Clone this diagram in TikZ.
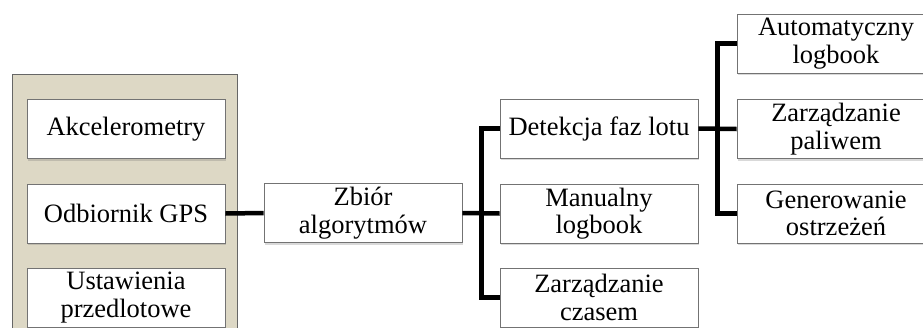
\documentclass[tikz,border=0pt]{standalone}
\usepackage{fontspec}
\setmainfont{Liberation Serif}
\usetikzlibrary{shadows}
\definecolor{tanbg}{HTML}{DDD8C5}
\begin{document}
\begin{tikzpicture}[x=1pt,y=-1pt,
  boxnode/.style={draw=black!55, line width=0.6pt, fill=white, minimum width=198pt, minimum height=59pt,
    align=center, inner sep=0pt, font=\fontsize{26.5}{27.5}\selectfont,
    drop shadow={shadow xshift=1.2pt, shadow yshift=-2pt, opacity=0.25, fill=black!60}},
  conn/.style={line width=4.5pt, line join=miter, draw=black}]
\useasboundingbox (0,0) rectangle (923,327);
\clip (0,0) rectangle (923,327);
\fill[tanbg, draw=black!60, line width=0.7pt] (12,74) rectangle (237,400);
\node[boxnode] (akc) at (126,129) {Akcelerometry};
\node[boxnode] (gps) at (126,213.5) {Odbiornik GPS};
\node[boxnode] (ust) at (126,297.5) {Ustawienia\\przedlotowe};
\node[boxnode] (zb) at (363,213) {Zbiór\\algorytmów};
\node[boxnode] (det) at (599,128.5) {Detekcja faz lotu};
\node[boxnode] (man) at (599,213.5) {Manualny\\logbook};
\node[boxnode] (czas) at (599,297.5) {Zarządzanie\\czasem};
\node[boxnode] (aut) at (836,43.5) {Automatyczny\\logbook};
\node[boxnode] (pal) at (836,129) {Zarządzanie\\paliwem};
\node[boxnode] (gen) at (836,213.5) {Generowanie\\ostrzeżeń};
\draw[conn] (gps.east) -- (zb.west);
\draw[conn] (zb.east) -- (man.west);
\draw[conn] (det.west) -- ++(-18,0) |- (czas.west);
\draw[conn] (det.east) -- (pal.west);
\draw[conn] (aut.west) -- ++(-19,0) |- (gen.west);
\end{tikzpicture}
\end{document}
